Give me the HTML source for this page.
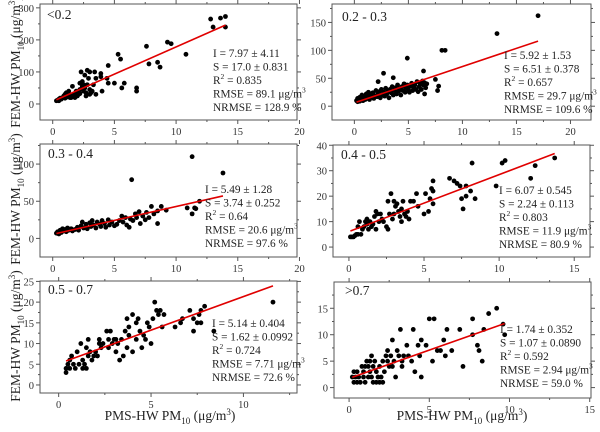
<!DOCTYPE html>
<html><head><meta charset="utf-8"><style>
body{margin:0;background:#fff}
svg{display:block}
svg text, svg tspan{font-family:"Times New Roman","Liberation Serif",Times,serif}
</style></head><body>
<svg id="c" width="600" height="432" viewBox="0 0 600 432">
<g><text transform="translate(20,62) rotate(-90)" text-anchor="middle" font-size="13.5" fill="#222">FEM-HW PM<tspan font-size="9" dy="4">10</tspan><tspan dy="-4"> (μg/m</tspan><tspan font-size="9" dy="-5">3</tspan><tspan dy="5">)</tspan></text></g>
<g><text transform="translate(20,199) rotate(-90)" text-anchor="middle" font-size="13.5" fill="#222">FEM-HW PM<tspan font-size="9" dy="4">10</tspan><tspan dy="-4"> (μg/m</tspan><tspan font-size="9" dy="-5">3</tspan><tspan dy="5">)</tspan></text></g>
<g><text transform="translate(20,336) rotate(-90)" text-anchor="middle" font-size="13.5" fill="#222">FEM-HW PM<tspan font-size="9" dy="4">10</tspan><tspan dy="-4"> (μg/m</tspan><tspan font-size="9" dy="-5">3</tspan><tspan dy="5">)</tspan></text></g>
<g><text x="170" y="420" text-anchor="middle" font-size="13.5" fill="#222">PMS-HW PM<tspan font-size="9" dy="4">10</tspan><tspan dy="-4"> (μg/m</tspan><tspan font-size="9" dy="-5">3</tspan><tspan dy="5">)</tspan></text></g>
<g><text x="462" y="420" text-anchor="middle" font-size="13.5" fill="#222">PMS-HW PM<tspan font-size="9" dy="4">10</tspan><tspan dy="-4"> (μg/m</tspan><tspan font-size="9" dy="-5">3</tspan><tspan dy="5">)</tspan></text></g>
</svg>
<script>
// Panel 1 (<0.2)
const p1X=[0.3,0.4,0.5,0.6,0.8,0.9,1,1.1,1.2,1.3,1.4,1.5,1.6,1.7,1.8,2,2.1,2.2,2.3,2.4,2.5,2.5,2.6,2.7,2.8,2.9,3,3,3.1,3.2,3.4,3.5,3.5,3.9,3.9,4,4.4,4.5,4.5,5,5.3,5.5,5.6,5.8,6.8,6.8,7.6,7.8,8.5,8.7,9.3,9.6,10.8,12.8,13,13.6,14,14,0.5,0.7,1,1.2,1.5,1.8,2,2.2,2.4,2.6,2.8,3,2.2,2.7,3.3,1.9];
const p1Y=[10,12,15,18,20,25,30,35,22,40,20,25,55,30,20,35,30,45,100,70,60,40,90,25,105,80,100,45,35,40,100,80,30,95,85,40,80,65,120,65,155,140,50,65,40,50,180,125,130,115,193,188,155,265,240,268,273,240,10,15,18,30,20,28,25,32,55,50,60,30,65,35,60,40];
// Panel 2 (0.2 - 0.3)
const p2X=[0.2,0.3,0.3,0.4,0.5,0.5,0.6,0.7,0.7,0.8,0.9,1,1,1.1,1.2,1.3,1.3,1.4,1.5,1.6,1.7,1.8,1.9,2,2.1,2.2,2.3,2.4,2.5,2.6,2.7,2.8,2.9,3,3.1,3.2,3.3,3.4,3.5,3.6,3.7,3.8,3.9,4,4.1,4.2,4.3,4.4,4.5,4.6,4.7,4.8,4.9,5,5.1,5.2,5.3,5.4,5.5,5.6,5.7,5.8,5.9,6,6.1,6.2,6.3,6.4,6.5,6.5,6.6,6.7,7.5,7.7,7.8,2.7,3.6,4.9,2.2,8.1,8.4,13.2,17,6.4];
const p2Y=[10,8,14,12,9,16,11,13,20,10,15,18,12,22,14,17,25,12,20,16,24,14,19,28,17,22,26,15,30,20,25,18,32,22,27,15,30,24,35,20,28,33,22,38,27,31,20,35,28,40,25,33,38,30,25,36,41,28,33,38,30,44,26,35,40,30,45,38,22,42,33,40,48,28,36,59,51,86,44,100,100,130,162,63];
// Panel 3 (0.3 - 0.4)
const p3X=[0.3,0.4,0.5,0.6,0.7,0.8,0.9,1,1.1,1.2,1.3,1.5,1.6,1.8,2,2.1,2.3,2.4,2.5,2.7,2.8,3,3.1,3.2,3.3,3.5,3.6,3.8,3.9,4,4.2,4.3,4.5,4.6,4.8,5,5.2,5.4,5.6,5.7,5.9,6,6.2,6.3,6.5,6.7,6.8,7,7.1,7.3,7.5,7.6,7.8,8,8.2,8.5,8.5,8.8,9.2,10.9,11.3,11.5,11.6,11.9,6.4,11.3,13.8];
const p3Y=[7,9,6,11,8,13,10,12,9,14,11,13,10,12,15,11,17,22,14,19,13,21,16,24,18,14,22,19,16,24,20,15,25,18,22,17,19,24,30,22,28,18,15,26,24,33,28,36,20,30,25,35,28,43,33,20,37,43,38,41,33,41,40,50,79,110,88];
// Panel 4 (0.4 - 0.5)
const p4X=[0.1,0.2,0.3,0.4,0.5,0.6,0.6,0.7,0.8,0.9,1,1.1,1.2,1.2,1.3,1.4,1.5,1.6,1.7,1.8,1.8,1.9,2,2.1,2.2,2.3,2.5,2.6,2.6,2.7,2.8,2.9,3,3,3.1,3.2,3.3,3.4,3.5,3.5,3.6,3.7,3.8,3.9,4,4.1,4.3,4.5,4.6,5,5.1,5.3,5.4,5.5,5.6,5.6,5.6,6.7,7,7.2,7.4,7.5,7.6,7.8,7.8,8.1,8.2,8.4,9.8,10.2,10.4,12.1,12.4,13.7];
const p4Y=[4,4,4,4.5,5,5,8,10,5,7,8,10,11,9,7,10,8,9,12,14,7,13,10,13,11,10,8,7,18,13,21,11,18,13,16,17,14,12,10,15,18,13,12,14,11,18,18,21,16,13,21,14,19,23,22,17,26,27,26,25,24,19,15,24,20,22,33,19,24,33,34,27,32,35];
// Panel 5 (0.5 - 0.7)
const p5X=[0.4,0.4,0.5,0.6,0.6,0.7,0.8,0.9,1,1.1,1.2,1.3,1.3,1.4,1.5,1.5,1.6,1.6,1.7,1.8,1.9,2,2.1,2.2,2.2,2.3,2.4,2.6,2.7,2.7,2.8,2.9,3,3.1,3.1,3.2,3.3,3.4,3.5,3.6,3.7,3.7,3.8,3.8,4,4,4.2,4.2,4.3,4.4,4.5,4.6,4.7,4.8,4.9,5,5.1,5.2,5.3,5.4,5.5,5.6,5.7,6.3,6.6,6.7,7.1,7.3,7.3,7.5,7.6,7.7,7.7,7.9,8.4,11.6];
const p5Y=[3,4,5,6,4,7,5,4,8,5,10,6,4,5,9,4,11,7,8,6,7,8,7,11,10,9,10,13,11,9,13,10,11,8,11,10,6,11,7,13,9,16,14,12,17,8,11,15,16,13,9,12,11,15,14,10,16,20,18,17,18,14,17,14,15,16,18,13,16,15,17,15,18,19,13,20];
// Panel 6 (>0.7)
const p6X=[0.2,0.3,0.3,0.4,0.5,0.5,0.6,0.7,0.8,0.9,0.9,1,1,1.1,1.2,1.2,1.3,1.3,1.4,1.4,1.5,1.5,1.6,1.7,1.7,1.8,1.9,1.9,2,2.1,2.1,2.2,2.3,2.4,2.4,2.5,2.6,2.7,2.7,2.8,2.9,3,3.1,3.2,3.3,3.3,3.4,3.6,3.7,3.9,4,4.1,4.3,4.4,4.5,4.5,4.8,5,5.2,5.3,5.5,5.7,5.9,6,6.1,6.4,6.9,7.1,7.7,7.7,8,8.1,8.3,8.4,8.7,9.2,9.6,9.7];
const p6Y=[2,1,3,2,3,1,2,1,4,2,3,4,1,5,2,4,3,5,6,2,4,1,5,1,3,2,4,1,2,5,1,3,6,7,5,4,6,9,4,5,2,7,6,11,4,5,6,8,6,5,11,3,8,6,9,2,8,13,5,13,7,7,9,6,11,7,11,4,13,10,8,7,5,11,14,15,12,10];
// Fit coefficients (intercept, slope) and fit x ranges
const fitI=[7.97,5.92,5.49,6.07,5.14,1.74];
const fitS=[17.0,6.51,3.74,2.24,1.62,1.07];
const fitX0=[0.3,0.2,0.3,0.1,0.4,0.2];
const fitX1=[14,17,13.8,13.7,11.6,9.7];
const panelLabels=["<0.2","0.2 - 0.3","0.3 - 0.4","0.4 - 0.5","0.5 - 0.7",">0.7"];
const statI=["7.97 ± 4.11","5.92 ± 1.53","5.49 ± 1.28","6.07 ± 0.545","5.14 ± 0.404","1.74 ± 0.352"];
const statS=["17.0 ± 0.831","6.51 ± 0.378","3.74 ± 0.252","2.24 ± 0.113","1.62 ± 0.0992","1.07 ± 0.0890"];
const statR2=["0.835","0.657","0.64","0.803","0.724","0.592"];
const statRMSE=["89.1","29.7","20.6","11.9","7.71","2.94"];
const statNRMSE=["128.9","109.6","97.6","80.9","72.6","59.0"];
const xTicks=[[0,5,10,15,20],[0,5,10,15,20],[0,5,10,15,20],[0,5,10,15],[0,5,10],[0,5,10,15]];
const yTicks=[[0,100,200,300],[0,50,100,150],[0,50,100],[0,10,20,30,40],[0,5,10,15,20,25],[0,5,10,15]];

const NS="http://www.w3.org/2000/svg";
const svg=document.getElementById('c');
const layout=[
 {l:40,r:297,t:4,b:120,x0:-1.03,x1:19.8,y0:-50,y1:312,tx:47,ty:19,sx:213,sy:57},
 {l:332,r:591,t:4,b:120,x0:-2.07,x1:21.9,y0:-24.7,y1:183,tx:342,ty:21,sx:504,sy:59},
 {l:40,r:297,t:144,b:257,x0:-1.03,x1:19.8,y0:-25,y1:127,tx:48,ty:158,sx:205,sy:193},
 {l:333,r:590,t:145,b:257,x0:-1.06,x1:16.05,y0:-3.9,y1:40.1,tx:341,ty:159,sx:499,sy:194},
 {l:40,r:297,t:281,b:393,x0:-1.01,x1:12.9,y0:-1.94,y1:25.1,tx:48,ty:294,sx:212,sy:327},
 {l:334,r:591,t:282,b:398,x0:-0.94,x1:15.08,y0:-1.97,y1:19.97,tx:345,ty:295,sx:500,sy:333}
];
const XS=[p1X,p2X,p3X,p4X,p5X,p6X], YS=[p1Y,p2Y,p3Y,p4Y,p5Y,p6Y];
function mk(tag,attrs,parent){const e=document.createElementNS(NS,tag);for(const k in attrs)e.setAttribute(k,attrs[k]);parent.appendChild(e);return e;}
layout.forEach((L,i)=>{
 const sx=v=>L.l+(v-L.x0)/(L.x1-L.x0)*(L.r-L.l);
 const sy=v=>L.b-(v-L.y0)/(L.y1-L.y0)*(L.b-L.t);
 const g=mk('g',{},svg);
 
 
 const fr=mk('rect',{x:L.l,y:L.t,width:L.r-L.l,height:L.b-L.t,fill:'none',stroke:'#555','stroke-width':1},g);
 
 
 const xt=xTicks[i];
 xt.forEach((v,j)=>{
  const x=sx(v);
  mk('line',{x1:x,x2:x,y1:L.b,y2:L.b+4,stroke:'#555'},g);
  mk('line',{x1:x,x2:x,y1:L.t,y2:L.t-4,stroke:'#555'},g);
  const t=mk('text',{x:x,y:L.b+15,'text-anchor':'middle','font-size':10.5,fill:'#333'},g);
  t.textContent=v;
  
  
  const m=v+(xt[1]-xt[0])/2;
  if(sx(m)<L.r){mk('line',{x1:sx(m),x2:sx(m),y1:L.b,y2:L.b+2,stroke:'#555'},g);mk('line',{x1:sx(m),x2:sx(m),y1:L.t,y2:L.t-2,stroke:'#555'},g);}
 });
 const yt=yTicks[i];
 yt.forEach(v=>{
  const y=sy(v);
  mk('line',{x1:L.l,x2:L.l-4,y1:y,y2:y,stroke:'#555'},g);
  mk('line',{x1:L.r,x2:L.r+4,y1:y,y2:y,stroke:'#555'},g);
  const t=mk('text',{x:L.l-6,y:y+4,'text-anchor':'end','font-size':10.5,fill:'#333'},g);
  t.textContent=v;
  
  
  const m=v+(yt[1]-yt[0])/2;
  if(sy(m)>L.t){mk('line',{x1:L.l,x2:L.l-2,y1:sy(m),y2:sy(m),stroke:'#555'},g);mk('line',{x1:L.r,x2:L.r+2,y1:sy(m),y2:sy(m),stroke:'#555'},g);}
 });
 XS[i].forEach((v,j)=>{
  const c=mk('circle',{cx:sx(v),cy:sy(YS[i][j]),r:2.4,fill:'#000'},g);
  
  
 });
 const ln=mk('line',{x1:sx(fitX0[i]),y1:sy(fitI[i]+fitS[i]*fitX0[i]),x2:sx(fitX1[i]),y2:sy(fitI[i]+fitS[i]*fitX1[i]),stroke:'#e00000','stroke-width':1.6},g);
 
 
 const lab=mk('text',{x:L.tx,y:L.ty,'font-size':13.5,fill:'#222'},g);
 lab.textContent=panelLabels[i];
 
 
 const st=mk('text',{'font-size':11.3,fill:'#222'},g);
 
 
 st.innerHTML=
  `<tspan x="${L.sx}" y="${L.sy}">I = ${statI[i]}</tspan>`+
  `<tspan x="${L.sx}" y="${L.sy+13.5}">S = ${statS[i]}</tspan>`+
  `<tspan x="${L.sx}" y="${L.sy+27}">R</tspan><tspan font-size="7.5" dy="-5">2</tspan><tspan dy="5"> = ${statR2[i]}</tspan>`+
  `<tspan x="${L.sx}" y="${L.sy+40.5}">RMSE = ${statRMSE[i]} μg/m</tspan><tspan font-size="7.5" dy="-5">3</tspan>`+
  `<tspan x="${L.sx}" y="${L.sy+54}">NRMSE = ${statNRMSE[i]} %</tspan>`;
});
</script>
</body></html>
